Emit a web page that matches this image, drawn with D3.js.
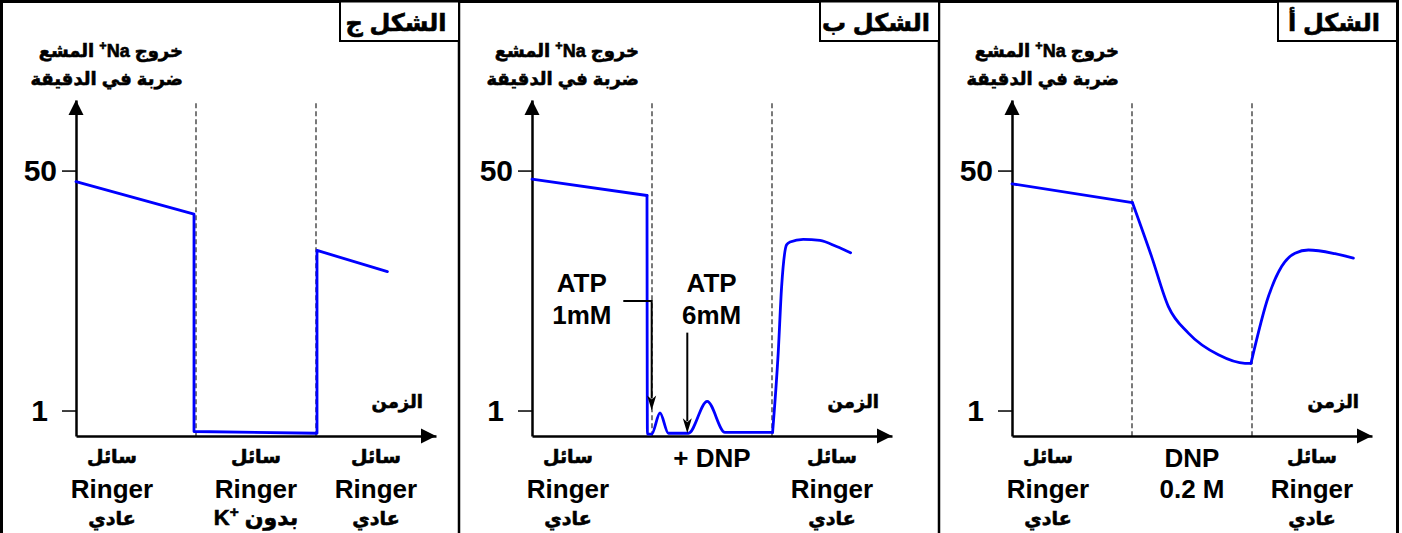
<!DOCTYPE html>
<html>
<head>
<meta charset="utf-8">
<script src="https://cdn.jsdelivr.net/npm/d3@7"></script>
<style>
  body { margin: 0; background: #fff; }
  svg { display: block; }
  text { font-family: "Liberation Sans", Arial, "DejaVu Sans", sans-serif; font-weight: bold; fill: #000; }
  text.ar { stroke: #000; stroke-width: 0.6px; paint-order: stroke; }
</style>
</head>
<body>
<div id="chart"></div>
<script>
// figure titles, left to right as printed
const figures = ["الشكل ج", "الشكل ب", "الشكل أ"];
const yTicks = [1, 50];
const phaseBounds = [60, 120]; // change of bathing solution (dashed lines)

// time (arbitrary units) / radioactive Na+ efflux (counts per minute)
const timeC = [0, 59, 59, 120.5, 120.5, 155.7];
const effluxC = [41.8, 24.6, 0.71, 0.69, 13.6, 9.64];

const timeB = [0, 57.5, 57.7, 59.8, 64, 68.2, 76.5, 78.2, 87.6, 96.5, 120.3, 123.1, 124.8, 127.3, 129, 135.6, 144, 152.3, 159.3];
const effluxB = [43.5, 33.3, 0.68, 0.68, 0.96, 0.69, 0.69, 0.69, 1.16, 0.7, 0.7, 2.55, 7.5, 14.9, 15.6, 16.3, 16.0, 14.5, 13.1];

const timeA = [0, 60.2, 69.8, 78.2, 88.2, 103.2, 116.5, 119.5, 128.2, 134.8, 141.5, 148.2, 161.5, 170.7];
const effluxA = [40.3, 29.7, 12.3, 5.44, 3.53, 2.48, 2.16, 2.16, 6.41, 10.45, 13.0, 13.7, 12.9, 12.0];

// solution names under the time axis, one column per phase
// (strings in visual left-to-right order, "^+" = superscript +)
const labelsC = [["سائل", "Ringer", "عادي"], ["سائل", "Ringer", "K^+ بدون"], ["سائل", "Ringer", "عادي"]];
const labelsB = [["سائل", "Ringer", "عادي"], ["+ DNP", null, null], ["سائل", "Ringer", "عادي"]];
const labelsA = [["سائل", "Ringer", "عادي"], ["DNP", "0.2 M", null], ["سائل", "Ringer", "عادي"]];
const labelTimes = [18, 90, 150];
const yTitle = ["المشع ^+Na خروج", "ضربة في الدقيقة"];
const xTitle = "الزمن";

// ATP injections in figure ب
const atpText = [["ATP", "1mM"], ["ATP", "6mM"]];
const atpTextTime = [24.9, 89.8];
const atpTime = [59.85, 77.65];
const atpFrom = [5.97, 3.56];
const atpTo = [1.0, 0.69];

const W = 1402, H = 533;
const panelX = [0, 456, 936];
const panelRight = [459, 939, 1397];
const blue = "#0000ff";
const arabic = /[\u0600-\u06FF]/;

const svg = d3.select("#chart").append("svg").attr("width", W).attr("height", H);

const x = d3.scaleLinear().domain([0, 180]).range([76, 436]);
const y = d3.scaleLog().domain([0.66, 158]).range([436, 100]);

function richText(t, s) {
  if (arabic.test(s)) t.classed("ar", true);
  const parts = s.split("^+");
  parts.forEach((p, i) => {
    if (p) t.append("tspan").text(p);
    if (i < parts.length - 1) {
      t.append("tspan").attr("baseline-shift", "super").style("font-size", "0.7em").text("+");
    }
  });
}

// frame
svg.append("rect").attr("x", 1.5).attr("y", 1.5).attr("width", 1396).attr("height", 545)
  .attr("fill", "none").attr("stroke", "#000").attr("stroke-width", 3);
svg.selectAll("line.divider").data(panelRight.slice(0, 2)).enter().append("line")
  .attr("x1", d => d).attr("x2", d => d).attr("y1", 0).attr("y2", H)
  .attr("stroke", "#000").attr("stroke-width", 2.5);

// title boxes
panelRight.forEach((r, i) => {
  svg.append("rect").attr("x", r - 119).attr("y", 1.5).attr("width", 119).attr("height", 39.5)
    .attr("fill", "#fff").attr("stroke", "#000").attr("stroke-width", 2);
  const t = svg.append("text").attr("x", r - 63).attr("y", 31).attr("text-anchor", "middle")
    .style("font-size", "24px");
  richText(t, figures[i]);
});

// pieces of each curve: [first index, last index, curve]
const panels = [
  { time: timeC, efflux: effluxC, labels: labelsC, pieces: [[0, 5, d3.curveLinear]] },
  { time: timeB, efflux: effluxB, labels: labelsB,
    pieces: [[0, 1, d3.curveLinear], [1, 10, d3.curveMonotoneX], [10, 18, d3.curveMonotoneX]] },
  { time: timeA, efflux: effluxA, labels: labelsA,
    pieces: [[0, 1, d3.curveLinear], [1, 7, d3.curveMonotoneX], [7, 13, d3.curveMonotoneX]] }
];

panels.forEach((p, i) => {
  const g = svg.append("g").attr("transform", `translate(${panelX[i]},0)`);

  // dashed phase boundaries
  g.selectAll("line.phase").data(phaseBounds).enter().append("line")
    .attr("x1", d => x(d)).attr("x2", d => x(d))
    .attr("y1", y(150)).attr("y2", y.range()[0])
    .attr("stroke", "#222").attr("stroke-width", 1.2).attr("stroke-dasharray", "5,3");

  // axes
  const yAxis = g.append("g").attr("transform", `translate(${x(0)},0)`)
    .call(d3.axisLeft(y).tickValues(yTicks).tickSize(14).tickSizeOuter(0).tickPadding(5).tickFormat(d3.format("d")));
  yAxis.attr("font-size", 30).attr("font-family", null);
  yAxis.select(".domain").attr("stroke-width", 2.5);
  yAxis.selectAll(".tick line").attr("stroke-width", 1.5);
  yAxis.selectAll(".tick text").style("font-size", "30px").attr("dx", d => d === 1 ? -9 : 0);

  const xAxis = g.append("g").attr("transform", `translate(0,${y.range()[0]})`)
    .call(d3.axisBottom(x).tickValues([]).tickSizeOuter(0));
  xAxis.select(".domain").attr("stroke-width", 2.5);

  const x0 = x(0), yb = y.range()[0], xe = x.range()[1], yt = y.range()[1];
  g.append("path").attr("d", `M${x0 - 7.5},${yt + 15}L${x0},${yt}L${x0 + 7.5},${yt + 15}Z`);
  g.append("path").attr("d", `M${xe - 15},${yb - 7.5}L${xe},${yb}L${xe - 15},${yb + 7.5}Z`);

  // axis titles
  yTitle.forEach((s, r) => {
    const t = g.append("text").attr("x", 183).attr("y", 57 + r * 28)
      .attr("text-anchor", "end").style("font-size", "18px");
    richText(t, s);
  });
  const xt = g.append("text").attr("x", x(173.5)).attr("y", 408)
    .attr("text-anchor", "end").style("font-size", "18px");
  richText(xt, xTitle);

  // curve
  const pts = d3.zip(p.time, p.efflux);
  p.pieces.forEach(([a, b, curve]) => {
    const line = d3.line().x(d => x(d[0])).y(d => y(d[1])).curve(curve);
    g.append("path").datum(pts.slice(a, b + 1)).attr("d", line)
      .attr("fill", "none").attr("stroke", blue).attr("stroke-width", 2.8)
      .attr("stroke-linejoin", "round").attr("stroke-linecap", "round");
  });

  // solution labels
  const rowY = [463, 498, 525];
  p.labels.forEach((col, c) => {
    col.forEach((s, r) => {
      if (!s) return;
      const isAr = arabic.test(s);
      const t = g.append("text").attr("x", x(labelTimes[c]))
        .attr("y", s.indexOf("DNP") >= 0 && r === 0 ? 467 : rowY[r])
        .attr("text-anchor", "middle")
        .style("font-size", isAr ? (s.indexOf("K") >= 0 ? "22px" : "19px") : "26px");
      richText(t, s);
    });
  });

  // ATP injections
  if (i === 1) {
    atpText.forEach((lines, k) => {
      lines.forEach((s, r) => {
        g.append("text").attr("x", x(atpTextTime[k])).attr("y", 292 + r * 31.5)
          .attr("text-anchor", "middle").style("font-size", "26px").text(s);
      });
    });
    const ax = atpTime.map(x);
    g.append("path").attr("fill", "none").attr("stroke", "#000").attr("stroke-width", 2)
      .attr("d", `M${x(45.65)},${y(atpFrom[0])}H${ax[0]}V${y(atpTo[0]) - 12}`);
    g.append("path").attr("fill", "none").attr("stroke", "#000").attr("stroke-width", 2)
      .attr("d", `M${ax[1]},${y(atpFrom[1])}V${y(atpTo[1]) - 12}`);
    atpTime.forEach((t, k) => {
      const tx = x(t), ty = y(atpTo[k]);
      g.append("path").attr("d", `M${tx - 4.5},${ty - 15}L${tx},${ty}L${tx + 4.5},${ty - 15}L${tx},${ty - 11}Z`);
    });
  }
});
</script>
</body>
</html>
